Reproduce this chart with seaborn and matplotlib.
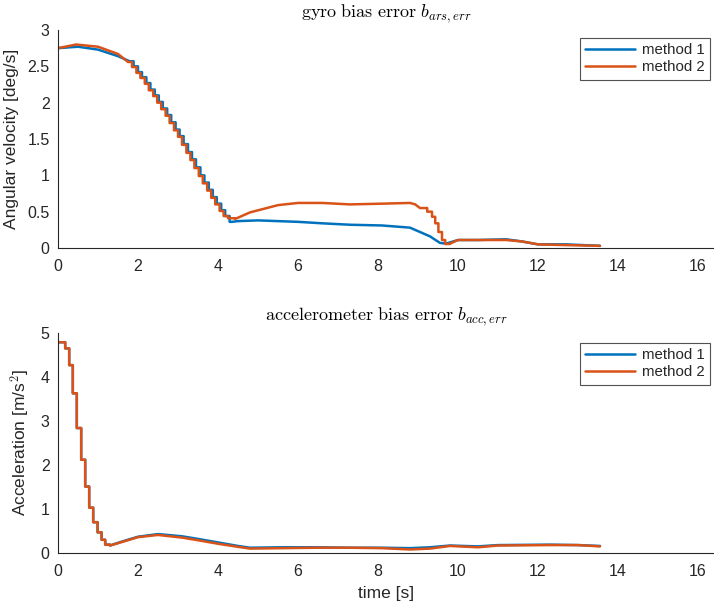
import numpy as np
import pandas as pd
import matplotlib
matplotlib.use("Agg")
import matplotlib.pyplot as plt
import seaborn as sns

# ---------------- data ----------------
series_names = ["method 1", "method 2"]

# gyro bias error, method 2 (orange): smooth parts and stair-step parts
g2_head_t = [0, 0.45, 1.0, 1.5]
g2_head_v = [2.75, 2.80, 2.77, 2.67]
g2_desc_t = [1.75, 1.85, 1.96, 2.06, 2.17, 2.27, 2.38, 2.48, 2.58, 2.69, 2.79, 2.90, 3.00,
             3.10, 3.21, 3.31, 3.41, 3.52, 3.62, 3.73, 3.83, 3.93, 4.04, 4.14, 4.25]
g2_desc_v = [2.56, 2.49, 2.41, 2.34, 2.26, 2.17, 2.09, 2.00, 1.91, 1.82, 1.72, 1.62, 1.53,
             1.42, 1.31, 1.21, 1.10, 0.99, 0.89, 0.79, 0.69, 0.60, 0.51, 0.44, 0.41]
g2_mid_t = [4.43, 4.8, 5.5, 6.0, 6.6, 7.3, 8.1, 8.8, 8.93]
g2_mid_v = [0.40, 0.49, 0.59, 0.62, 0.62, 0.60, 0.61, 0.62, 0.60]
g2_drop_t = [9.05, 9.23, 9.35, 9.43, 9.51, 9.60, 9.68]
g2_drop_v = [0.55, 0.50, 0.43, 0.34, 0.22, 0.11, 0.055]
g2_tail_t = [9.8, 10.0, 10.5, 11.2, 11.6, 12.0, 12.7, 13.55]
g2_tail_v = [0.06, 0.11, 0.11, 0.11, 0.09, 0.05, 0.04, 0.03]

# gyro bias error, method 1 (blue)
g1_head_t = [0, 0.5, 1.0, 1.5]
g1_head_v = [2.75, 2.77, 2.73, 2.64]
g1_desc_t = [1.79, 1.89, 2.00, 2.10, 2.21, 2.31, 2.42, 2.52, 2.62, 2.73, 2.83, 2.94, 3.04,
             3.14, 3.25, 3.35, 3.45, 3.56, 3.66, 3.77, 3.87, 3.97, 4.08, 4.18, 4.29]
g1_desc_v = [2.57, 2.50, 2.42, 2.35, 2.27, 2.18, 2.10, 2.01, 1.92, 1.83, 1.73, 1.63, 1.54,
             1.43, 1.32, 1.22, 1.11, 1.00, 0.90, 0.80, 0.70, 0.61, 0.52, 0.44, 0.36]
g1_tail_t = [4.35, 4.5, 5.0, 5.5, 6.0, 6.6, 7.3, 8.1, 8.8, 9.05, 9.3, 9.55, 9.7, 10.0, 10.5,
             11.2, 11.6, 12.0, 12.7, 13.55]
g1_tail_v = [0.36, 0.37, 0.38, 0.37, 0.36, 0.34, 0.32, 0.31, 0.28, 0.22, 0.16, 0.07, 0.06, 0.11,
             0.11, 0.12, 0.09, 0.05, 0.05, 0.03]

# accelerometer bias error: stepped start (both methods), then smooth tails
acc_step_t = [0, 0.18, 0.28, 0.37, 0.47, 0.58, 0.68, 0.78, 0.88, 0.99, 1.09, 1.18]
acc_step_v = [4.79, 4.65, 4.27, 3.63, 2.84, 2.12, 1.51, 1.03, 0.70, 0.47, 0.30, 0.19]
acc_tail_t = [1.3, 1.6, 2.0, 2.5, 3.1, 3.5, 4.0, 4.5, 4.8, 5.6, 6.5, 7.3, 8.1, 8.8, 9.3, 9.8,
              10.5, 11.0, 12.3, 13.0, 13.55]
acc_tail_v_m1 = [0.17, 0.26, 0.37, 0.43, 0.38, 0.32, 0.24, 0.16, 0.12, 0.13, 0.13, 0.12, 0.12,
                 0.11, 0.13, 0.17, 0.15, 0.18, 0.19, 0.18, 0.16]
acc_tail_v_m2 = [0.17, 0.25, 0.36, 0.41, 0.35, 0.29, 0.21, 0.14, 0.10, 0.11, 0.12, 0.12, 0.11,
                 0.08, 0.10, 0.16, 0.13, 0.17, 0.18, 0.18, 0.15]

gyro_yticks = [0, 0.5, 1, 1.5, 2, 2.5, 3]
gyro_yticklabels = ["0", "0.5", "1", "1.5", "2", "2.5", "3"]
acc_yticks = [0, 1, 2, 3, 4, 5]
xticks = [0, 2, 4, 6, 8, 10, 12, 14, 16]


# ---------------- build paths ----------------
def build(segments):
    """segments: list of (kind, ts, vs); 'steps' segments hold until the next segment starts."""
    xs, ys = [], []
    for k, (kind, ts, vs) in enumerate(segments):
        if kind == "line":
            xs += list(ts)
            ys += list(vs)
        else:
            nxt_start = segments[k + 1][1][0]
            for i, (t, v) in enumerate(zip(ts, vs)):
                end = ts[i + 1] if i + 1 < len(ts) else nxt_start
                xs += [t, end]
                ys += [v, v]
    return xs, ys


paths_gyro = {
    "method 1": build([("line", g1_head_t, g1_head_v), ("steps", g1_desc_t, g1_desc_v),
                       ("line", g1_tail_t, g1_tail_v)]),
    "method 2": build([("line", g2_head_t, g2_head_v), ("steps", g2_desc_t, g2_desc_v),
                       ("line", g2_mid_t, g2_mid_v), ("steps", g2_drop_t, g2_drop_v),
                       ("line", g2_tail_t, g2_tail_v)]),
}
paths_acc = {
    "method 1": build([("steps", acc_step_t, acc_step_v), ("line", acc_tail_t, acc_tail_v_m1)]),
    "method 2": build([("steps", acc_step_t, acc_step_v), ("line", acc_tail_t, acc_tail_v_m2)]),
}

# ---------------- style ----------------
sns.set_theme(style="white")
plt.rcParams["font.family"] = ["Liberation Sans", "DejaVu Sans"]
plt.rcParams["mathtext.fontset"] = "cm"
palette = {"method 1": "#0072BD", "method 2": "#D95319"}
axcol = "#262626"

fig = plt.figure(figsize=(7.14, 6.02), dpi=100)
ax1 = fig.add_axes([58 / 714, 1 - 248 / 602, 656 / 714, 218 / 602])
ax2 = fig.add_axes([58 / 714, 1 - 553 / 602, 656 / 714, 220 / 602])

for name in series_names:
    x, y = paths_gyro[name]
    sns.lineplot(x=x, y=y, color=palette[name], estimator=None, sort=False,
                 lw=1.8, ax=ax1, label=name)
    x, y = paths_acc[name]
    sns.lineplot(x=x, y=y, color=palette[name], estimator=None, sort=False,
                 lw=1.8, ax=ax2, label=name)

for ax, ylim, yt, ytl, ylabel, title, leg_top in [
    (ax1, (0, 3), gyro_yticks, gyro_yticklabels, "Angular velocity [deg/s]",
     r"$\mathrm{gyro\ bias\ error}\ b_{ars,err}$", 38),
    (ax2, (0, 5), acc_yticks, [str(v) for v in acc_yticks], r"Acceleration [m/s$^2$]",
     r"$\mathrm{accelerometer\ bias\ error}\ b_{acc,err}$", 343),
]:
    ax.set_xlim(0, 16.4)
    ax.set_ylim(*ylim)
    ax.set_xticks(xticks)
    ax.set_xticklabels([str(v) for v in xticks])
    ax.set_yticks(yt)
    ax.set_yticklabels(ytl)
    ax.tick_params(direction="in", length=5, width=0.8, colors=axcol, labelsize=11.5,
                   labelcolor=axcol)
    ax.tick_params(axis="x", pad=8)
    ax.tick_params(axis="y", pad=6)
    for s in ["top", "right"]:
        ax.spines[s].set_visible(False)
    for s in ["left", "bottom"]:
        ax.spines[s].set_color(axcol)
        ax.spines[s].set_linewidth(0.8)
    ax.set_ylabel(ylabel, fontsize=12.5, color=axcol, labelpad=6)
    ax.set_xlabel("")
    ax.set_title(title, fontsize=13, color="black", pad=9)
    ax.patch.set_alpha(0)
    leg = ax.legend(loc="upper right", bbox_to_anchor=(710 / 714, 1 - leg_top / 602),
                    bbox_transform=fig.transFigure, fontsize=10.8, handlelength=3.3,
                    frameon=True, fancybox=False, edgecolor=axcol, borderaxespad=0,
                    labelspacing=0.2, borderpad=0.35, handletextpad=0.5)
    leg.get_frame().set_linewidth(0.8)
    for txt in leg.get_texts():
        txt.set_color(axcol)

ax2.set_xlabel("time [s]", fontsize=12.5, color=axcol, labelpad=5)

fig.savefig("out.png", dpi=100)
